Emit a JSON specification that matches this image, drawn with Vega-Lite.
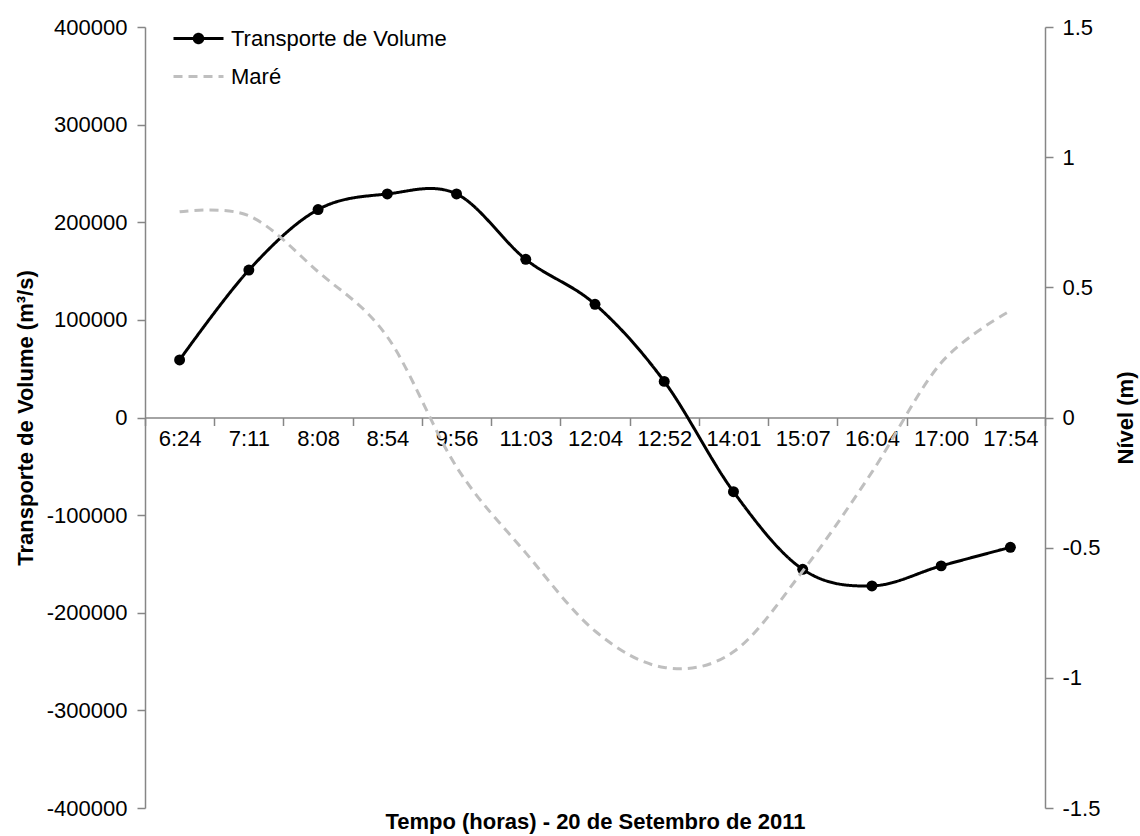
{
  "$schema": "https://vega.github.io/schema/vega-lite/v6.json",
  "width": 900,
  "height": 781,
  "autosize": {"type": "none"},
  "padding": {"left": 145, "top": 27, "right": 95, "bottom": 28},
  "background": "white",
  "config": {"font": "Liberation Sans", "view": {"stroke": null}},
  "data": {
    "values": [
      {"hora": "6:24", "transporte": 59000, "mare": 0.79},
      {"hora": "7:11", "transporte": 151000, "mare": 0.775},
      {"hora": "8:08", "transporte": 213000, "mare": 0.56},
      {"hora": "8:54", "transporte": 229000, "mare": 0.31},
      {"hora": "9:56", "transporte": 229000, "mare": -0.19},
      {"hora": "11:03", "transporte": 162000, "mare": -0.52},
      {"hora": "12:04", "transporte": 116000, "mare": -0.82},
      {"hora": "12:52", "transporte": 37000, "mare": -0.96},
      {"hora": "14:01", "transporte": -76000, "mare": -0.9},
      {"hora": "15:07", "transporte": -155500, "mare": -0.59},
      {"hora": "16:04", "transporte": -172500, "mare": -0.21},
      {"hora": "17:00", "transporte": -152000, "mare": 0.21},
      {"hora": "17:54", "transporte": -133000, "mare": 0.41}
    ]
  },
  "encoding": {
    "x": {
      "field": "hora",
      "type": "nominal",
      "sort": null,
      "scale": {"type": "band", "paddingInner": 0, "paddingOuter": 0},
      "axis": {
        "title": "Tempo (horas) - 20 de Setembro de 2011",
        "offset": -390.5,
        "labelAngle": 0,
        "tickBand": "extent",
        "domainColor": "#868686",
        "domainWidth": 1.5,
        "tickColor": "#868686",
        "tickWidth": 1.5,
        "tickSize": 8,
        "labelFontSize": 22,
        "labelColor": "black",
        "labelPadding": 3,
        "titleFontSize": 22,
        "titleFontWeight": "bold",
        "titleColor": "black",
        "titleY": 404,
        "titleBaseline": "middle",
        "grid": false
      }
    }
  },
  "layer": [
    {
      "mark": {
        "type": "line",
        "interpolate": "cardinal",
        "strokeWidth": 3,
        "point": {"filled": true, "size": 120, "color": "black"}
      },
      "encoding": {
        "y": {
          "field": "transporte",
          "type": "quantitative",
          "scale": {"domain": [-400000, 400000], "nice": false, "zero": false},
          "axis": {
            "title": "Transporte de Volume (m³/s)",
            "values": [-400000, -300000, -200000, -100000, 0, 100000, 200000, 300000, 400000],
            "labelExpr": "'' + datum.value",
            "domainColor": "#868686",
            "domainWidth": 1.5,
            "tickColor": "#868686",
            "tickWidth": 1.5,
            "tickSize": 8,
            "labelFontSize": 22,
            "labelColor": "black",
            "labelPadding": 10,
            "titleFontSize": 22,
            "titleFontWeight": "bold",
            "titleColor": "black",
            "titleX": -120,
            "titleY": 390.5,
            "titleBaseline": "middle",
            "grid": false
          }
        },
        "color": {
          "datum": "Transporte de Volume",
          "type": "nominal",
          "scale": {"domain": ["Transporte de Volume", "Maré"], "range": ["#000000", "#BFBFBF"]},
          "legend": {
            "title": null,
            "orient": "none",
            "legendX": 27,
            "legendY": -15,
            "symbolType": "stroke",
            "symbolSize": 2500,
            "symbolStrokeWidth": 3,
            "labelFontSize": 22,
            "labelColor": "black",
            "labelOffset": 6,
            "labelLimit": 0,
            "rowPadding": -5,
            "encode": {
              "symbols": {
                "update": {
                  "shape": {"signal": "datum.value === 'Maré' ? 'stroke' : 'M-1,0L1,0M0.17,0A0.17,0.17,0,1,1,-0.17,0A0.17,0.17,0,1,1,0.17,0'"},
                  "fill": {"signal": "datum.value === 'Maré' ? 'transparent' : '#000000'"},
                  "strokeDash": {"signal": "datum.value === 'Maré' ? [8, 5] : [1, 0]"}
                }
              }
            }
          }
        },
        "strokeDash": {
          "datum": "Transporte de Volume",
          "type": "nominal",
          "scale": {"domain": ["Transporte de Volume", "Maré"], "range": [[1, 0], [9, 6]]},
          "legend": null
        }
      }
    },
    {
      "mark": {"type": "line", "interpolate": "cardinal", "strokeWidth": 3},
      "encoding": {
        "y": {
          "field": "mare",
          "type": "quantitative",
          "scale": {"domain": [-1.5, 1.5], "nice": false, "zero": false},
          "axis": {
            "orient": "right",
            "title": "Nível (m)",
            "values": [-1.5, -1, -0.5, 0, 0.5, 1, 1.5],
            "labelExpr": "'' + datum.value",
            "domainColor": "#868686",
            "domainWidth": 1.5,
            "tickColor": "#868686",
            "tickWidth": 1.5,
            "tickSize": 8,
            "labelFontSize": 22,
            "labelColor": "black",
            "labelPadding": 9,
            "titleFontSize": 22,
            "titleFontWeight": "bold",
            "titleColor": "black",
            "titleAngle": 270,
            "titleX": 80,
            "titleY": 390.5,
            "titleBaseline": "middle",
            "grid": false
          }
        },
        "color": {"datum": "Maré", "type": "nominal"},
        "strokeDash": {"datum": "Maré", "type": "nominal"}
      }
    }
  ],
  "resolve": {"scale": {"y": "independent"}}
}
